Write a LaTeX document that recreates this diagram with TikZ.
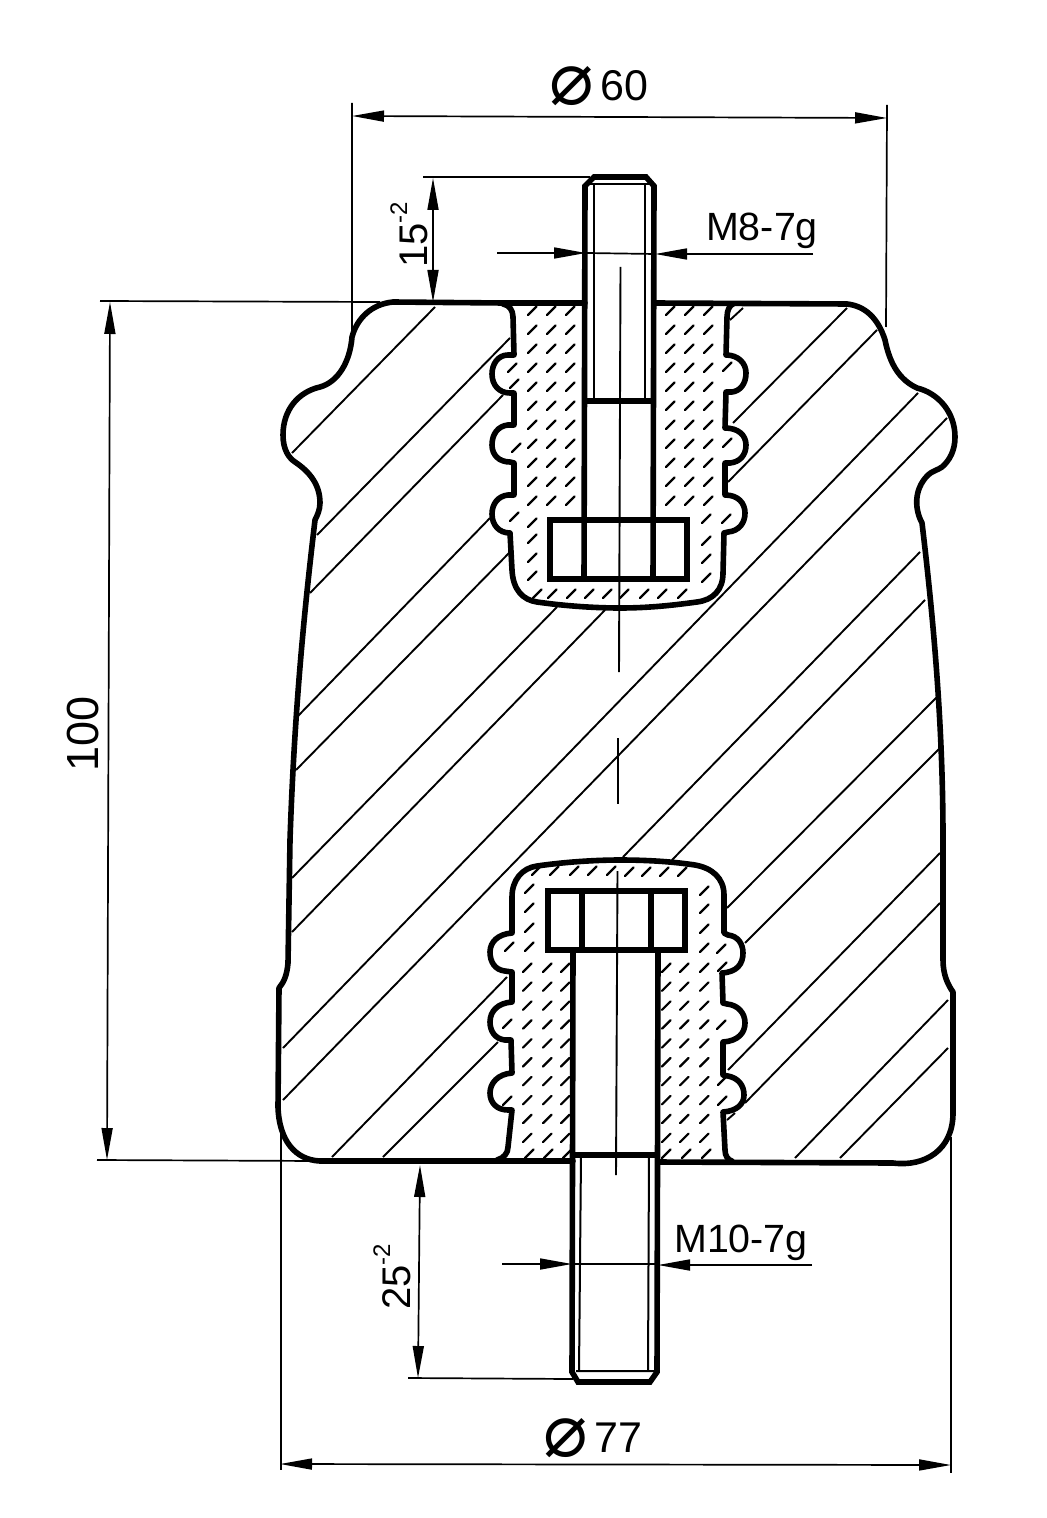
\documentclass[tikz,border=0pt]{standalone}
\usepackage{fontspec}
\setmainfont{Liberation Sans}
\newfontfamily\dvfont{DejaVu Sans}
\usetikzlibrary{arrows.meta}
\tikzset{
  outline/.style={line width=2.8pt,line join=round,line cap=round},
  threadline/.style={line width=1pt},
  hatchline/.style={line width=0.95pt},
  centreline/.style={line width=0.95pt},
  dimline/.style={line width=0.85pt},
  dimarrow/.style={line width=0.85pt,-{Triangle[length=16pt,width=5.5pt]}},
  dimboth/.style={line width=0.85pt,{Triangle[length=16pt,width=5.5pt]}-{Triangle[length=16pt,width=5.5pt]}}
}
\newcommand{\hd}[2]{\draw[line width=1.1pt,line cap=round] (#1,#2) -- +(8.5,-8.5);}
\newcommand{\dia}{\raisebox{-0.09em}{\dvfont\fontsize{37pt}{37pt}\selectfont ⌀}\hspace{3pt}}
\begin{document}
\begin{tikzpicture}[x=0.5pt,y=-0.5pt]
\useasboundingbox (0,0) rectangle (1046,1518);
% section hatching of the insulator body
\foreach \xa/\ya/\xb/\yb in {
 435/307/292/453, 510/338/317/535, 503/395/310/593, 490/518/298/716, 510/552/296/770,
 557/607/292/878, 605/610/292/932, 918/393/283/1048, 947/418/283/1100, 920/552/623/857,
 925/600/672/860, 847/308/733/423, 877/330/728/482, 937/697/727/908, 940/748/745/943,
 940/853/728/1070, 940/903/745/1103, 948/1000/795/1158, 948/1048/840/1158,
 507/977/332/1157, 498/1042/383/1157, 730/320/743/308, 727/1120/735/1113}
 {\draw[hatchline] (\xa,\ya) -- (\xb,\yb);}
% filler hatching, upper socket
\foreach \i in {0,...,10}{
  \foreach \x in {528,547,566,666,685,704}{\pgfmathsetmacro{\yy}{315+19*\i}\hd{\x}{\yy}}
}
\foreach \x/\y in {508/372,510/388,512/452,510/521,528/527,528/543,528/562,528/580,
  533/598,548/598,567/598,585/598,603/598,620/598,640/598,658/598,678/598,
  702/523,722/523,702/545,702/563,702/582,723/371,723/447}{\hd{\x}{\y}}
% filler hatching, lower socket
\foreach \i in {0,...,9}{
  \foreach \x in {523,543,561,662,680,700}{\pgfmathsetmacro{\yy}{972+18.9*\i}\hd{\x}{\yy}}
}
\foreach \x/\y in {525/1158,544/1158,563/1158,662/1158,682/1158,702/1158,
  525/893,525/912,525/932,525/951,
  532/875,550/875,570/875,588/875,607/875,625/876,642/876,660/876,678/876,
  700/895,700/913,700/933,700/952,717/953,505/951,503/1028,503/1105,
  718/971,717/1029,718/1085,718/1105}{\hd{\x}{\y}}
% centre line
\draw[centreline] (620.5,267) -- (619,672);
\draw[centreline] (618,738) -- (618,804);
\draw[centreline] (617.5,871) -- (616,1175);
% insulator outer contour
\draw[outline] (585,303) -- (503,303) (503,303) -- (393,302)
  .. controls (372,304) and (357,318) .. (352,337)
  .. controls (350,362) and (338,382) .. (320,387)
  .. controls (298,392) and (283,410) .. (283,435)
  .. controls (283,450) and (289,458) .. (295,462)
  .. controls (310,472) and (320,485) .. (320,503)
  .. controls (320,510) and (317,516) .. (315,520)
  .. controls (308,580) and (295,690) .. (290,840)
  -- (288,963) .. controls (287,975) and (284,982) .. (279,988)
  -- (278,1107) .. controls (279,1140) and (295,1160) .. (320,1161)
  -- (573,1161);
\draw[outline] (658,1162) -- (893,1163)
  .. controls (925,1167) and (953,1150) .. (953,1113)
  -- (953,992) .. controls (948,985) and (943,975) .. (943,960)
  -- (943,840) .. controls (943,740) and (936,640) .. (922,523)
  .. controls (915,510) and (913,490) .. (928,475)
  .. controls (932,471) and (938,470) .. (942,467)
  .. controls (950,460) and (955,450) .. (955,437)
  .. controls (955,412) and (938,393) .. (917,388)
  .. controls (900,380) and (890,365) .. (885,340)
  .. controls (878,318) and (865,306) .. (847,304)
  -- (655,303);
% upper socket contour
\draw[outline] (503,304) .. controls (509,305) and (513,310) .. (513,317)
  -- (514,355) -- (508,355) .. controls (498,355) and (492,364) .. (492,374)
  .. controls (492,385) and (499,393) .. (510,393) -- (514,393)
  -- (514,425) -- (508,425) .. controls (498,426) and (492,434) .. (492,445)
  .. controls (492,455) and (499,462) .. (510,462) -- (514,463)
  -- (514,495) -- (508,495) .. controls (498,496) and (492,504) .. (492,514)
  .. controls (492,525) and (499,533) .. (510,533)
  -- (512,570) .. controls (513,590) and (523,600) .. (537,602)
  .. controls (565,606) and (595,608) .. (620,608)
  .. controls (650,608) and (675,605) .. (697,602)
  .. controls (713,600) and (723,590) .. (723,573)
  -- (724,533) -- (728,532) .. controls (739,531) and (745,523) .. (745,513)
  .. controls (745,503) and (738,495) .. (725,495)
  -- (725,463) -- (730,463) .. controls (740,462) and (746,455) .. (746,445)
  .. controls (746,435) and (738,428) .. (725,428)
  -- (726,392) -- (732,392) .. controls (740,391) and (746,384) .. (746,373)
  .. controls (746,363) and (738,355) .. (726,355)
  -- (727,317) .. controls (727,310) and (730,305) .. (733,304);
% lower socket contour
\draw[outline] (497,1160) .. controls (504,1158) and (508,1153) .. (508,1147)
  -- (512,1110) -- (508,1110) .. controls (497,1110) and (490,1103) .. (490,1093)
  .. controls (490,1083) and (498,1074) .. (512,1073)
  -- (511,1040) -- (505,1040) .. controls (495,1039) and (490,1031) .. (490,1022)
  .. controls (490,1011) and (498,1003) .. (512,1002)
  -- (512,972) -- (505,971) .. controls (495,970) and (490,962) .. (490,952)
  .. controls (490,942) and (498,934) .. (512,933)
  -- (512,897) .. controls (512,880) and (522,868) .. (537,866)
  .. controls (565,862) and (595,860) .. (620,860)
  .. controls (650,860) and (675,862) .. (695,865)
  .. controls (712,868) and (724,878) .. (724,895)
  -- (724,933) -- (728,935) .. controls (738,936) and (743,944) .. (743,953)
  .. controls (743,964) and (737,972) .. (722,973)
  -- (723,1003) -- (727,1004) .. controls (738,1005) and (745,1013) .. (745,1023)
  .. controls (745,1033) and (738,1041) .. (723,1042)
  -- (723,1075) -- (728,1076) .. controls (738,1078) and (744,1085) .. (744,1095)
  .. controls (744,1104) and (737,1111) .. (723,1112)
  -- (725,1150) .. controls (725,1156) and (728,1160) .. (732,1161);
% upper bolt
\draw[outline,line cap=butt,line join=miter] (584,580) -- (585,186) -- (594,177) -- (646,177) -- (654,186) -- (653,580);
\draw[threadline] (594,184) -- (594,401) (645,184) -- (645,401) (590,184) -- (649,184);
\draw[outline,line cap=butt] (585,401) -- (654,401);
\draw[outline,line join=miter] (550,520) rectangle (687,579);
% lower bolt
\draw[outline,line cap=butt,line join=miter] (573,950) -- (572,1372) -- (578,1382) -- (650,1382) -- (657,1372) -- (658,950);
\draw[threadline] (581,1155) -- (579,1372) (649,1155) -- (648,1372) (576,1371) -- (654,1371);
\draw[outline,line cap=butt] (573,1155) -- (658,1155);
\draw[outline,line join=miter] (548,891) rectangle (685,950);
\draw[outline,line cap=butt] (582,891) -- (582,950) (651,891) -- (651,950);
% dimension: diameter 60
\draw[dimline] (352,103) -- (352,337) (887,105) -- (886,327);
\draw[dimboth] (352,116) -- (887,118);
\node[font=\fontsize{21.5pt}{24pt}\selectfont] (d60) at (599,86) {\dia 60};
% dimension: 15
\draw[dimline] (423,177) -- (590,177);
\draw[dimboth] (433,178) -- (433,302);
\node[rotate=90,font=\fontsize{20pt}{22pt}\selectfont] (d15) at (409,235) {15\raisebox{0.5em}{\fontsize{12pt}{12pt}\selectfont -2}};
% dimension: M8
\draw[dimline] (586,253) -- (655,254);
\draw[dimarrow] (497,253) -- (586,253);
\draw[dimarrow] (813,254) -- (655,254);
\node[font=\fontsize{19.7pt}{21pt}\selectfont] (m8) at (762,231) {M8-7g};
% dimension: 100
\draw[dimline] (100,301) -- (380,302) (97,1160) -- (320,1161);
\draw[dimboth] (110,302) -- (107,1160);
\node[rotate=90,font=\fontsize{22.5pt}{24pt}\selectfont] (d100) at (83,734) {100};
% dimension: 25
\draw[dimline] (408,1378) -- (573,1379);
\draw[dimboth] (420,1165) -- (418,1378);
\node[rotate=90,font=\fontsize{20pt}{22pt}\selectfont] (d25) at (392,1277) {25\raisebox{0.5em}{\fontsize{12pt}{12pt}\selectfont -2}};
% dimension: M10
\draw[dimline] (572,1264) -- (658,1264);
\draw[dimarrow] (502,1264) -- (572,1264);
\draw[dimarrow] (812,1265) -- (658,1265);
\node[font=\fontsize{19.7pt}{21pt}\selectfont] (m10) at (741,1243) {M10-7g};
% dimension: diameter 77
\draw[dimline] (281,1133) -- (281,1470) (951,1137) -- (951,1473);
\draw[dimboth] (280,1464) -- (951,1465);
\node[font=\fontsize{21.5pt}{24pt}\selectfont] (d77) at (593,1438) {\dia 77};
\end{tikzpicture}
\end{document}
